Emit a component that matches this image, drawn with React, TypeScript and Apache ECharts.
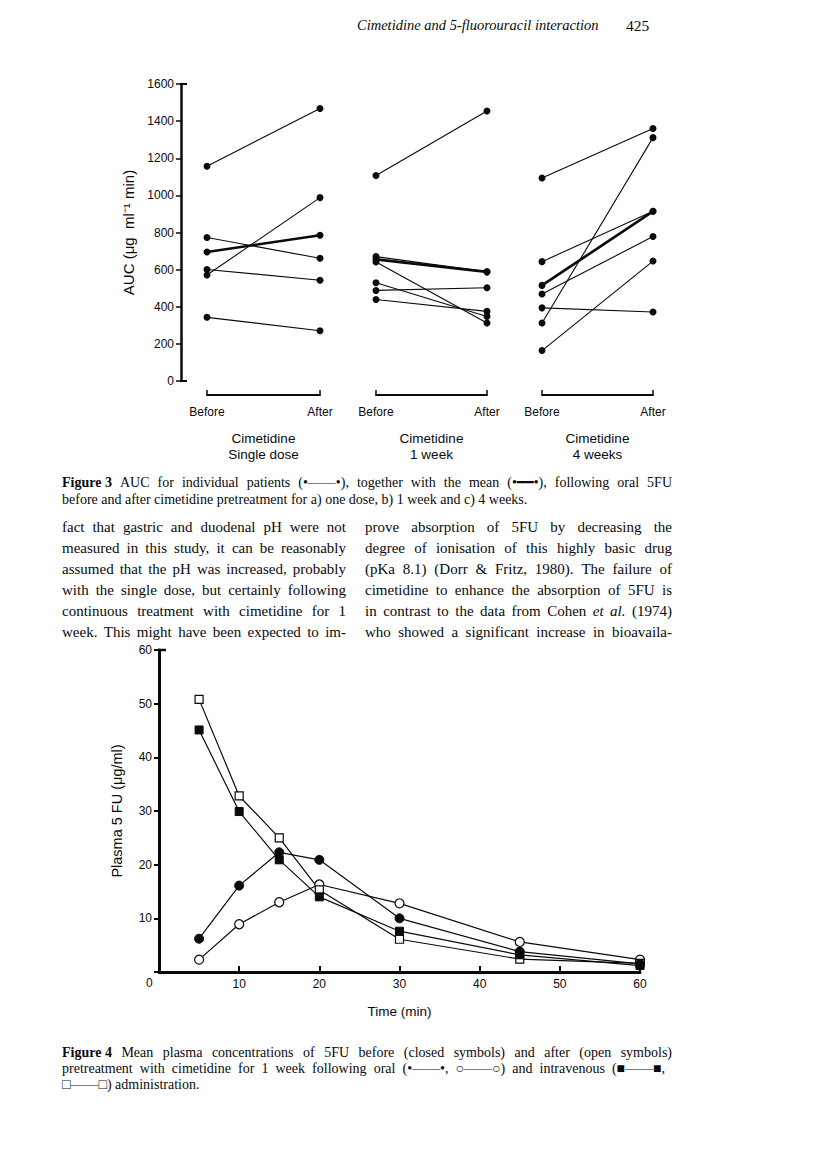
import React, { useEffect, useRef } from 'react';
import * as echarts from 'echarts';

// ---------- Figure 3 data (AUC, µg ml-1 min) ----------
const phaseLabels = ['Before', 'After'];
const panelNames = ['Cimetidine\nSingle dose', 'Cimetidine\n1 week', 'Cimetidine\n4 weeks'];
const aucTicksMax = 1600;
const aucTickStep = 200;

const singleBefore = [1157, 773, 601, 571, 343];
const singleAfter = [1468, 661, 543, 988, 271];
const singleMean = [695, 785];

const week1Before = [1107, 670, 641, 529, 488, 439];
const week1After = [1455, 588, 312, 348, 502, 375];
const week1Mean = [655, 588];

const week4Before = [1094, 312, 643, 469, 394, 164];
const week4After = [1360, 1311, 914, 778, 372, 646];
const week4Mean = [515, 914];

// ---------- Figure 4 data (plasma 5FU, µg/ml) ----------
const times = [5, 10, 15, 20, 30, 45, 60];
const oralBefore = [6.2, 16.1, 22.3, 20.9, 10.0, 3.8, 1.5];
const oralAfter = [2.3, 8.9, 13.0, 16.3, 12.8, 5.6, 2.3];
const ivBefore = [45.1, 29.9, 20.9, 14.0, 7.6, 3.2, 1.2];
const ivAfter = [50.8, 32.8, 25.0, 15.3, 6.1, 2.4, 1.6];
const timeMax = 60;
const timeStep = 10;
const concMax = 60;
const concStep = 10;

// ---------- Page text ----------
const headerTitle = 'Cimetidine and 5-fluorouracil interaction';
const pageNumber = '425';
const fig3Caption = [
  '*Figure~3* AUC for individual patients (•——•), together with the mean (•━━•), following oral 5FU',
  'before and after cimetidine pretreatment for a) one dose, b) 1 week and c) 4 weeks.',
];
const leftColumn = [
  'fact that gastric and duodenal pH were not',
  'measured in this study, it can be reasonably',
  'assumed that the pH was increased, probably',
  'with the single dose, but certainly following',
  'continuous treatment with cimetidine for 1',
  'week. This might have been expected to im-',
];
const rightColumn = [
  'prove absorption of 5FU by decreasing the',
  'degree of ionisation of this highly basic drug',
  '(pKa 8.1) (Dorr & Fritz, 1980). The failure of',
  'cimetidine to enhance the absorption of 5FU is',
  'in contrast to the data from Cohen _et_ _al._ (1974)',
  'who showed a significant increase in bioavaila-',
];
const fig4Caption = [
  '*Figure~4* Mean plasma concentrations of 5FU before (closed symbols) and after (open symbols)',
  'pretreatment with cimetidine for 1 week following oral (•——•, ○——○) and intravenous (■——■,',
  '□——□) administration.',
];

const SERIF = '"Liberation Serif", "DejaVu Serif", serif';
const SANS = '"Liberation Sans", Arial, sans-serif';
const INK = '#0a0a0a';

let measureCtx: CanvasRenderingContext2D | null = null;
function measure(text: string, size: number, weight: string, style: string, family: string) {
  if (!measureCtx) measureCtx = document.createElement('canvas').getContext('2d');
  measureCtx!.font = `${style} ${weight} ${size}px ${family}`;
  return measureCtx!.measureText(text).width;
}

function textEl(text: string, x: number, y: number, size: number, opts: any = {}) {
  const align = opts.align || 'left';
  return {
    type: 'text',
    x,
    y,
    silent: true,
    style: {
      text,
      fill: INK,
      fontSize: size,
      fontFamily: opts.family || SERIF,
      fontWeight: opts.weight || 'normal',
      fontStyle: opts.style || 'normal',
      align,
      textAlign: align,
      verticalAlign: 'middle',
      textVerticalAlign: 'middle',
    },
  };
}

function lineWords(line: string, x: number, y: number, size: number, justifyWidth: number | null) {
  const words = line
    .split(' ')
    .filter(Boolean)
    .map((raw) => {
      let t = raw;
      let weight = 'normal';
      let style = 'normal';
      if (t.length > 2 && t.startsWith('*') && t.endsWith('*')) {
        weight = 'bold';
        t = t.slice(1, -1);
      }
      if (t.length > 2 && t.startsWith('_') && t.endsWith('_')) {
        style = 'italic';
        t = t.slice(1, -1);
      }
      t = t.replace(/~/g, ' ');
      return { t, weight, style, w: measure(t, size, weight, style, SERIF) };
    });
  const total = words.reduce((s, w) => s + w.w, 0);
  const space = measure(' ', size, 'normal', 'normal', SERIF);
  const gap = justifyWidth && words.length > 1 ? (justifyWidth - total) / (words.length - 1) : space;
  const els: any[] = [];
  let cx = x;
  words.forEach((w) => {
    els.push(textEl(w.t, cx, y, size, { weight: w.weight, style: w.style }));
    cx += w.w + gap;
  });
  return els;
}

export default function App() {
  const ref = useRef<HTMLDivElement>(null);

  useEffect(() => {
    if (!ref.current) return;
    const chart = echarts.init(ref.current, null, { renderer: 'svg' });

    const panelData = [
      { before: singleBefore, after: singleAfter, mean: singleMean },
      { before: week1Before, after: week1After, mean: week1Mean },
      { before: week4Before, after: week4After, mean: week4Mean },
    ];
    const panelLeft = [207, 376, 542];
    const panelWidth = [113, 111, 111];
    const topY = 84;
    const topH = 297;

    const grids: any[] = panelLeft.map((l, i) => ({
      left: l,
      top: topY,
      width: panelWidth[i],
      height: topH,
      containLabel: false,
      outerBoundsMode: 'none',
    }));
    grids.push({ left: 159, top: 650, width: 481, height: 322, containLabel: false, outerBoundsMode: 'none' });

    const axisFont = { fontFamily: SANS, color: INK };
    const plain = (v: number) => String(v);
    const noZero = (v: number) => (v === 0 ? '' : String(v));

    const xAxes: any[] = panelData.map((_, p) => ({
      gridIndex: p,
      type: 'category',
      data: phaseLabels,
      boundaryGap: false,
      position: 'bottom',
      offset: 14,
      axisLine: { show: true, onZero: false, lineStyle: { color: INK, width: 2 } },
      axisTick: { show: true, inside: true, length: 5, alignWithLabel: true, lineStyle: { color: INK, width: 1.5 } },
      axisLabel: { ...axisFont, fontSize: 12, margin: 11, interval: 0 },
      splitLine: { show: false },
      name: panelNames[p],
      nameLocation: 'middle',
      nameGap: 35,
      nameTextStyle: { ...axisFont, fontSize: 13.5, lineHeight: 16 },
    }));
    xAxes.push({
      gridIndex: 3,
      type: 'value',
      min: 0,
      max: timeMax,
      interval: timeStep,
      axisLine: { show: true, lineStyle: { color: INK, width: 3 } },
      axisTick: { show: true, inside: true, length: 6, lineStyle: { color: INK, width: 2 } },
      axisLabel: { ...axisFont, fontSize: 12, margin: 6, formatter: noZero },
      splitLine: { show: false },
      name: 'Time (min)',
      nameLocation: 'middle',
      nameGap: 32,
      nameTextStyle: { ...axisFont, fontSize: 13.5 },
    });

    const yAxes: any[] = panelData.map((_, p) => ({
      gridIndex: p,
      type: 'value',
      min: 0,
      max: aucTicksMax,
      interval: aucTickStep,
      show: p === 0,
      offset: 26,
      axisLine: { show: true, lineStyle: { color: INK, width: 2.5 } },
      axisTick: { show: true, length: 5, lineStyle: { color: INK, width: 1.5 } },
      axisLabel: { ...axisFont, fontSize: 12, margin: 7, formatter: plain },
      splitLine: { show: false },
      name: p === 0 ? 'AUC (μg  ml⁻¹ min)' : '',
      nameLocation: 'middle',
      nameRotate: 90,
      nameGap: 45,
      nameTextStyle: { ...axisFont, fontSize: 15 },
    }));
    yAxes.push({
      gridIndex: 3,
      type: 'value',
      min: 0,
      max: concMax,
      interval: concStep,
      axisLine: { show: true, lineStyle: { color: INK, width: 3 } },
      axisTick: { show: true, length: 5, lineStyle: { color: INK, width: 2 } },
      axisLabel: { ...axisFont, fontSize: 12, margin: 7, formatter: noZero },
      splitLine: { show: false },
      name: 'Plasma 5 FU (μg/ml)',
      nameLocation: 'middle',
      nameRotate: 90,
      nameGap: 35,
      nameTextStyle: { ...axisFont, fontSize: 14.5 },
    });

    const series: any[] = [];
    panelData.forEach((pd, p) => {
      pd.before.forEach((b, i) => {
        series.push({
          type: 'line',
          xAxisIndex: p,
          yAxisIndex: p,
          data: [b, pd.after[i]],
          symbol: 'circle',
          symbolSize: 7,
          silent: true,
          itemStyle: { color: INK },
          lineStyle: { color: INK, width: 1.1 },
        });
      });
      series.push({
        type: 'line',
        xAxisIndex: p,
        yAxisIndex: p,
        data: pd.mean,
        symbol: 'circle',
        symbolSize: 7,
        silent: true,
        itemStyle: { color: INK },
        lineStyle: { color: INK, width: 2.6 },
      });
    });

    const fig4Series = [
      { data: oralAfter, symbol: 'circle', size: 9, open: true },
      { data: ivAfter, symbol: 'rect', size: 8, open: true },
      { data: ivBefore, symbol: 'rect', size: 8, open: false },
      { data: oralBefore, symbol: 'circle', size: 9, open: false },
    ];
    fig4Series.forEach((s) => {
      series.push({
        type: 'line',
        xAxisIndex: 3,
        yAxisIndex: 3,
        data: times.map((t, i) => [t, s.data[i]]),
        symbol: s.symbol,
        symbolSize: s.size,
        silent: true,
        itemStyle: s.open
          ? { color: '#fff', borderColor: INK, borderWidth: 1.2 }
          : { color: INK, borderColor: INK, borderWidth: 1 },
        lineStyle: { color: INK, width: 1.2 },
        z: 3,
      });
    });

    const graphics: any[] = [];
    graphics.push(textEl(headerTitle, 357, 25, 14.5, { style: 'italic' }));
    graphics.push(textEl(pageNumber, 626, 25, 15.5));

    // axis end caps
    graphics.push({ type: 'line', silent: true, shape: { x1: 180, y1: 84, x2: 187, y2: 84 }, style: { stroke: INK, lineWidth: 2 } });
    graphics.push({ type: 'line', silent: true, shape: { x1: 180, y1: 381, x2: 187, y2: 381 }, style: { stroke: INK, lineWidth: 2 } });
    graphics.push({ type: 'line', silent: true, shape: { x1: 158, y1: 650, x2: 166, y2: 650 }, style: { stroke: INK, lineWidth: 2.5 } });
    graphics.push(textEl('0', 146, 983, 12, { family: SANS }));

    fig3Caption.forEach((l, i) => {
      graphics.push(...lineWords(l, 62, 482 + i * 17, 14, i === 0 ? 610 : null));
    });
    leftColumn.forEach((l, i) => {
      graphics.push(...lineWords(l, 62, 527 + i * 21, 15, 284));
    });
    rightColumn.forEach((l, i) => {
      graphics.push(...lineWords(l, 365, 527 + i * 21, 15, 307));
    });
    fig4Caption.forEach((l, i) => {
      graphics.push(...lineWords(l, 62, 1052 + i * 16, 14, i === 0 ? 610 : i === 1 ? 603 : null));
    });

    chart.setOption({
      animation: false,
      backgroundColor: '#fff',
      grid: grids,
      xAxis: xAxes,
      yAxis: yAxes,
      series,
      graphic: { elements: graphics },
    });

    return () => chart.dispose();
  }, []);

  return (
    <div
      ref={ref}
      style={{ position: 'absolute', left: 0, top: 0, width: 816, height: 1167, background: '#fff' }}
    />
  );
}
